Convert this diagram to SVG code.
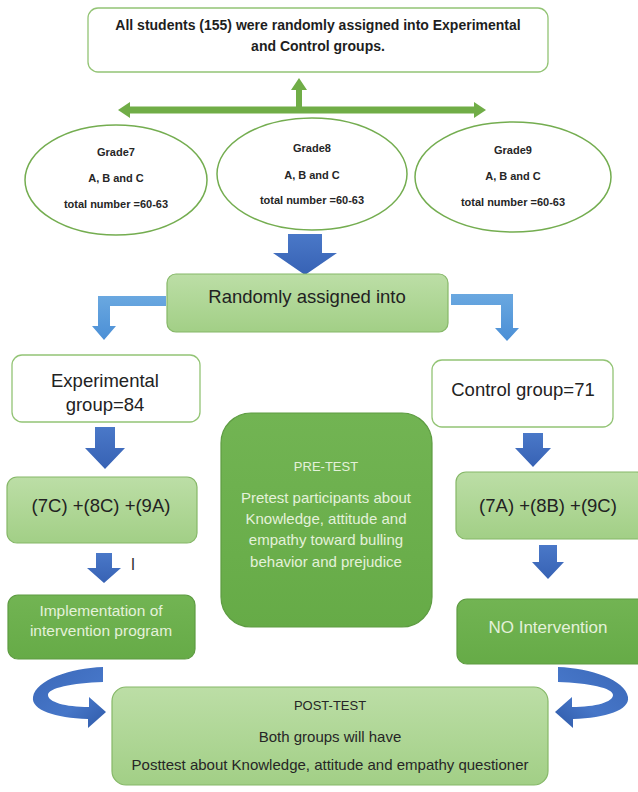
<svg xmlns="http://www.w3.org/2000/svg" width="638" height="792" viewBox="0 0 638 792">
<defs>
<linearGradient id="lg" x1="0" y1="0" x2="0" y2="1">
<stop offset="0" stop-color="#bcdea6"/>
<stop offset="1" stop-color="#a2cf86"/>
</linearGradient>
<linearGradient id="dg" x1="0" y1="0" x2="0" y2="1">
<stop offset="0" stop-color="#72b453"/>
<stop offset="1" stop-color="#66ab47"/>
</linearGradient>
<linearGradient id="bg" x1="0" y1="0" x2="0" y2="1">
<stop offset="0" stop-color="#4a78c8"/>
<stop offset="1" stop-color="#3762b4"/>
</linearGradient>
<linearGradient id="lb" x1="0" y1="0" x2="0" y2="1">
<stop offset="0" stop-color="#6aa8e0"/>
<stop offset="1" stop-color="#4b8fd6"/>
</linearGradient>
<linearGradient id="cb" x1="0" y1="0" x2="1" y2="1">
<stop offset="0" stop-color="#3b68b8"/>
<stop offset="0.6" stop-color="#4676c8"/>
<stop offset="1" stop-color="#2f5aa8"/>
</linearGradient>
<style>
text{font-family:"Liberation Sans",Arial,sans-serif;text-anchor:middle}
.wbox{fill:#ffffff;stroke:#93c475;stroke-width:1.3}
.lbox{fill:url(#lg);stroke:#86b868;stroke-width:1.2}
.dbox{fill:url(#dg);stroke:#5e9c42;stroke-width:1.2}
.ell{fill:#ffffff;stroke:#74ad50;stroke-width:1.5}
.bt{font-size:14px;font-weight:bold;fill:#1e1e1e}
.et{font-size:11px;font-weight:bold;fill:#262626}
.mt{font-size:18.5px;fill:#222222}
.lt{font-size:15px;fill:#e4f1da}
.st{font-size:13px;fill:#e4f1da}
.pt{font-size:15px;fill:#262626}
.pst{font-size:13px;fill:#262626}
</style>
</defs>

<g id="connectors">
<path d="M118,110 L130,102 L130,106.5 L296,106.5 L296,90 L291,90 L299,78 L307,90 L302,90 L302,106.5 L474,106.5 L474,102 L486,110 L474,118 L474,113.5 L130,113.5 L130,118 Z" fill="#70ad47"/>
<path d="M288,234 L322,234 L322,253 L337,253 L305,275 L273,253 L288,253 Z" fill="url(#bg)"/>
<path d="M166,296 L166,306 L110,306 L110,326 L116,326 L104,340 L92,326 L98,326 L98,296 Z" fill="url(#lb)"/>
<path d="M451,294 L513,294 L513,328 L519,328 L507,341 L495,328 L501,328 L501,305 L451,305 Z" fill="url(#lb)"/>
<path d="M95,427 L115,427 L115,448 L125,448 L105,469 L85,448 L95,448 Z" fill="url(#bg)"/>
<path d="M96,553 L112,553 L112,568 L121,568 L104,583 L87,568 L96,568 Z" fill="url(#bg)"/>
<path d="M523,433 L543,433 L543,448 L551,448 L533,467 L515,448 L523,448 Z" fill="url(#bg)"/>
<path d="M539,545 L557,545 L557,562 L564,562 L548,579 L532,562 L539,562 Z" fill="url(#bg)"/>
<path d="M103,667 C70,668 36,680 33,697 C31,710 55,718 88,719 L88,728 L106,712 L89,697 L89,707 C65,707 48,702 48,695 C48,688 72,683 103,682 Z" fill="url(#cb)"/>
<path d="M103,667 C70,668 36,680 33,697 C31,710 55,718 88,719 L88,728 L106,712 L89,697 L89,707 C65,707 48,702 48,695 C48,688 72,683 103,682 Z" fill="url(#cb)" transform="translate(661,0) scale(-1,1)"/>
</g>

<g id="node-all">
<rect class="wbox" x="88" y="8" width="460" height="64" rx="10"/>
<text class="bt" x="318" y="30">All students (155) were randomly assigned into Experimental</text>
<text class="bt" x="318" y="51">and Control groups.</text>
</g>

<g id="node-grade7">
<ellipse class="ell" cx="116" cy="180" rx="91" ry="55"/>
<text class="et" x="116" y="156">Grade7</text>
<text class="et" x="116" y="182">A, B and C</text>
<text class="et" x="116" y="208">total number =60-63</text>
</g>

<g id="node-grade8">
<ellipse class="ell" cx="312" cy="174" rx="95" ry="56"/>
<text class="et" x="312" y="152">Grade8</text>
<text class="et" x="312" y="179">A, B and C</text>
<text class="et" x="312" y="204">total number =60-63</text>
</g>

<g id="node-grade9">
<ellipse class="ell" cx="513" cy="177" rx="98" ry="55"/>
<text class="et" x="513" y="154">Grade9</text>
<text class="et" x="513" y="180">A, B and C</text>
<text class="et" x="513" y="206">total number =60-63</text>
</g>

<g id="node-random">
<rect class="lbox" x="167" y="274" width="281" height="58" rx="9"/>
<text class="mt" x="307" y="303">Randomly assigned into</text>
</g>

<g id="node-exp">
<rect class="wbox" x="12" y="355" width="188" height="67" rx="10"/>
<text class="mt" x="105" y="387">Experimental</text>
<text class="mt" x="105" y="411">group=84</text>
</g>

<g id="node-ctrl">
<rect class="wbox" x="432" y="360" width="181" height="67" rx="10"/>
<text class="mt" x="523" y="396">Control group=71</text>
</g>

<g id="node-expclasses">
<rect class="lbox" x="7" y="477" width="190" height="66" rx="10"/>
<text class="mt" x="101" y="512">(7C) +(8C) +(9A)</text>
</g>

<g id="node-ctrlclasses">
<rect class="lbox" x="456" y="472" width="190" height="67" rx="10"/>
<text class="mt" x="548" y="512">(7A) +(8B) +(9C)</text>
</g>

<g id="mark">
<text x="133" y="570" style="font-size:16px;fill:#333333">I</text>
</g>

<g id="node-pretest">
<rect class="dbox" x="221" y="413" width="211" height="214" rx="30"/>
<text class="st" x="326" y="471">PRE-TEST</text>
<text class="lt" x="326" y="503">Pretest participants about</text>
<text class="lt" x="326" y="524">Knowledge, attitude and</text>
<text class="lt" x="326" y="545">empathy toward bulling</text>
<text class="lt" x="326" y="567">behavior and prejudice</text>
</g>

<g id="node-impl">
<rect class="dbox" x="8" y="595" width="187" height="64" rx="10"/>
<text class="lt" x="101" y="616" style="font-size:15.5px">Implementation of</text>
<text class="lt" x="101" y="636" style="font-size:15.5px">intervention program</text>
</g>

<g id="node-nointerv">
<rect class="dbox" x="457" y="599" width="190" height="65" rx="10"/>
<text class="lt" x="548" y="633" style="font-size:17px">NO Intervention</text>
</g>

<g id="node-posttest">
<rect class="lbox" x="112" y="687" width="436" height="98" rx="14"/>
<text class="pst" x="330" y="710">POST-TEST</text>
<text class="pt" x="330" y="742">Both groups will have</text>
<text class="pt" x="330" y="770">Posttest about Knowledge, attitude and empathy questioner</text>
</g>
</svg>
